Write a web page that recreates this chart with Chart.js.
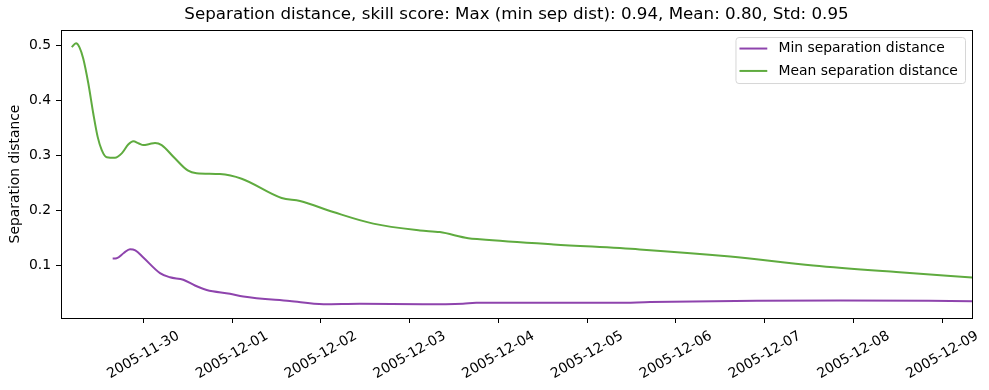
<!DOCTYPE html>
<html>
<head>
<meta charset="utf-8">
<script src="https://cdn.jsdelivr.net/npm/chart.js@4.4.1/dist/chart.umd.min.js"></script>
<style>
  html, body { margin: 0; padding: 0; background: #ffffff; }
  #wrap { width: 989px; height: 390px; }
</style>
</head>
<body>
<div id="wrap"><canvas id="chart" width="989" height="390"></canvas></div>
<script>
// x values are days after 2005-11-30 00:00
const tickLabels = ['2005-11-30', '2005-12-01', '2005-12-02', '2005-12-03', '2005-12-04',
    '2005-12-05', '2005-12-06', '2005-12-07', '2005-12-08', '2005-12-09'];

const minDays = [-0.345, -0.30, -0.22, -0.15, -0.09, 0.0, 0.188, 0.30, 0.45, 0.582, 0.714,
    0.976, 1.126, 1.65, 2.03, 2.44, 3.15, 3.6, 3.75, 5.33, 5.71, 6.91, 7.85, 9.34];
const minValues = [0.113, 0.1135, 0.123, 0.130, 0.128, 0.115, 0.0866, 0.079, 0.0745, 0.064, 0.056,
    0.049, 0.044, 0.0357, 0.030, 0.031, 0.030, 0.031, 0.0325, 0.0325, 0.034, 0.0365, 0.037, 0.0355];

const meanDays = [-0.807, -0.758, -0.72, -0.676, -0.619, -0.563, -0.514, -0.468, -0.412, -0.319,
    -0.243, -0.17, -0.113, -0.05, 0.0, 0.07, 0.132, 0.207, 0.35, 0.50, 0.60, 0.864, 1.108, 1.558,
    1.765, 2.14, 2.59, 3.116, 3.34, 3.66, 3.79, 4.62, 5.59, 6.61, 7.545, 8.48, 9.34];
const meanValues = [0.497, 0.504, 0.497, 0.476, 0.431, 0.376, 0.334, 0.310, 0.297, 0.296,
    0.304, 0.320, 0.326, 0.322, 0.319, 0.321, 0.323, 0.319, 0.296, 0.273, 0.268, 0.2665, 0.258, 0.223,
    0.2175, 0.1975, 0.1764, 0.164, 0.161, 0.150, 0.148, 0.1387, 0.1296, 0.1165, 0.1005, 0.0885, 0.0787];

const yTicks = [0.1, 0.2, 0.3, 0.4, 0.5];

const FONT = 'DejaVu Sans';
const toPoints = (xs, ys) => xs.map((x, i) => ({ x: x, y: ys[i] }));

// axes frame, rotated date labels and the legend box
const mplLook = {
    id: 'mplLook',
    afterDraw(chart) {
        const ctx = chart.ctx;
        const a = chart.chartArea;
        const xs = chart.scales.x;
        ctx.save();

        ctx.strokeStyle = '#000000';
        ctx.lineWidth = 1;
        ctx.strokeRect(Math.round(a.left) + 0.5, Math.round(a.top) + 0.5,
            Math.round(a.right - a.left), Math.round(a.bottom - a.top));

        // date labels, rotated 30 degrees and centred under each tick
        ctx.font = '13.9px "' + FONT + '"';
        ctx.fillStyle = '#000000';
        ctx.textAlign = 'center';
        ctx.textBaseline = 'middle';
        const ang = 30 * Math.PI / 180;
        tickLabels.forEach((lab, i) => {
            const w = ctx.measureText(lab).width;
            const h = 16.2;
            const bh = w * Math.sin(ang) + h * Math.cos(ang);
            const x = xs.getPixelForValue(i);
            const y = a.bottom + 10 + bh / 2;
            ctx.save();
            ctx.translate(x, y);
            ctx.rotate(-ang);
            ctx.fillText(lab, 0, 0);
            ctx.restore();
        });

        // legend
        const em = 13.9;
        const items = chart.data.datasets;
        let tw = 0;
        items.forEach(d => { tw = Math.max(tw, ctx.measureText(d.label).width); });
        const bw = 0.4 * em * 2 + 2 * em + 0.8 * em + tw;
        const bh = 46;
        const bx = a.right - 7 - bw;
        const by = a.top + 7;
        ctx.beginPath();
        ctx.roundRect(bx + 0.5, by + 0.5, bw, bh, 3);
        ctx.fillStyle = 'rgba(255,255,255,0.8)';
        ctx.fill();
        ctx.strokeStyle = '#d6d6d6';
        ctx.stroke();
        ctx.textAlign = 'left';
        items.forEach((d, i) => {
            const yy = by + 11.5 + i * 22.4;
            ctx.strokeStyle = d.borderColor;
            ctx.lineWidth = 2;
            ctx.beginPath();
            ctx.moveTo(bx + 4, yy);
            ctx.lineTo(bx + 4 + 2 * em, yy);
            ctx.stroke();
            ctx.fillStyle = '#000000';
            ctx.fillText(d.label, bx + 4 + 2.8 * em, yy);
        });
        ctx.restore();
    }
};

new Chart(document.getElementById('chart'), {
    type: 'line',
    data: {
        datasets: [
            {
                label: 'Min separation distance',
                data: toPoints(minDays, minValues),
                borderColor: '#8e44ad',
                borderWidth: 2,
                pointRadius: 0,
                cubicInterpolationMode: 'monotone',
                fill: false
            },
            {
                label: 'Mean separation distance',
                data: toPoints(meanDays, meanValues),
                borderColor: '#5fab3f',
                borderWidth: 2,
                pointRadius: 0,
                cubicInterpolationMode: 'monotone',
                fill: false
            }
        ]
    },
    options: {
        responsive: false,
        animation: false,
        layout: { padding: { left: 0, right: 17, top: 0, bottom: 0 } },
        plugins: {
            legend: { display: false },
            tooltip: { enabled: false },
            title: {
                display: true,
                fullSize: false,
                text: 'Separation distance, skill score: Max (min sep dist): 0.94, Mean: 0.80, Std: 0.95',
                color: '#000000',
                font: { family: FONT, size: 16.7, weight: 'normal', lineHeight: 1.2 },
                padding: { top: 5, bottom: 5 }
            }
        },
        scales: {
            x: {
                type: 'linear',
                min: -0.927,
                max: 9.334,
                afterBuildTicks: (s) => { s.ticks = tickLabels.map((t, i) => ({ value: i })); },
                afterFit: (s) => { s.height = 72; },
                ticks: { display: false },
                grid: { drawOnChartArea: false, drawTicks: true, tickLength: 5, color: '#000000', tickWidth: 1 },
                border: { display: false }
            },
            y: {
                type: 'linear',
                min: 0.005,
                max: 0.528,
                afterBuildTicks: (s) => { s.ticks = yTicks.map(v => ({ value: v })); },
                afterFit: (s) => { s.width = 61; },
                ticks: {
                    color: '#000000',
                    padding: 5,
                    font: { family: FONT, size: 13.9 },
                    callback: (v) => v.toFixed(1)
                },
                grid: { drawOnChartArea: false, drawTicks: true, tickLength: 5, color: '#000000', tickWidth: 1 },
                border: { display: false },
                title: {
                    display: true,
                    text: 'Separation distance',
                    color: '#000000',
                    font: { family: FONT, size: 13.9, lineHeight: 1.2 },
                    padding: { top: 7.5, bottom: 0 }
                }
            }
        }
    },
    plugins: [mplLook]
});
</script>
</body>
</html>
